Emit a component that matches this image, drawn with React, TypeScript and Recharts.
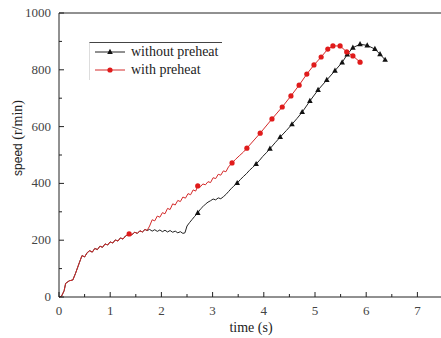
import React from "react";
import { LineChart, Line, XAxis, YAxis, ReferenceLine, Label } from "recharts";

// time (s) / speed (r/min)
const early = [
  [0, 0], [0.05, 3], [0.1, 22], [0.13, 48], [0.2, 57], [0.27, 60], [0.32, 82], [0.4, 122],
  [0.45, 146], [0.5, 141], [0.55, 156], [0.6, 163], [0.65, 158], [0.7, 171], [0.75, 167],
  [0.8, 179], [0.85, 175], [0.9, 187], [0.95, 183], [1.0, 194], [1.05, 190], [1.1, 201],
  [1.15, 197], [1.2, 208], [1.25, 204], [1.3, 215], [1.37, 222], [1.42, 219], [1.48, 228],
  [1.53, 224], [1.58, 233], [1.63, 229], [1.68, 238], [1.72, 234],
];

const withTail = [
  [1.77, 250], [1.82, 272], [1.87, 268], [1.92, 285], [1.97, 281], [2.02, 297], [2.07, 293],
  [2.12, 312], [2.17, 308], [2.22, 328], [2.27, 324], [2.32, 340], [2.37, 336], [2.42, 352],
  [2.47, 348], [2.52, 364], [2.57, 360], [2.62, 377], [2.67, 373], [2.71, 391], [2.76, 388],
  [2.81, 398], [2.86, 395], [2.91, 406], [2.96, 403], [3.01, 420], [3.06, 417], [3.11, 432],
  [3.16, 429], [3.21, 444], [3.26, 441], [3.31, 458], [3.38, 472], [3.45, 485], [3.52, 497],
  [3.6, 510], [3.67, 524], [3.93, 577], [4.16, 627], [4.36, 669], [4.53, 708], [4.69, 746],
  [4.84, 785], [4.98, 817], [5.12, 845], [5.25, 873], [5.35, 884], [5.49, 884], [5.62, 863],
  [5.74, 849], [5.88, 827],
];
const withMarks = [1.37, 2.71, 3.38, 3.67, 3.93, 4.16, 4.36, 4.53, 4.69, 4.84, 4.98, 5.12, 5.25, 5.35, 5.49, 5.62, 5.74, 5.88];

const withoutTail = [
  [1.77, 238], [1.82, 232], [1.87, 237], [1.92, 231], [1.97, 236], [2.02, 230], [2.07, 235],
  [2.12, 229], [2.17, 234], [2.22, 228], [2.27, 232], [2.32, 226], [2.37, 230], [2.42, 224],
  [2.46, 226], [2.5, 250], [2.55, 262], [2.6, 273], [2.65, 284], [2.71, 296], [2.76, 309],
  [2.81, 318], [2.86, 327], [2.91, 334], [2.96, 339], [3.01, 345], [3.06, 342], [3.11, 349],
  [3.16, 346], [3.21, 353], [3.26, 361], [3.31, 371], [3.36, 381], [3.41, 390], [3.48, 401],
  [3.54, 413], [3.6, 424], [3.66, 434], [3.72, 446], [3.78, 456], [3.85, 468], [3.92, 482],
  [3.98, 495], [4.05, 508], [4.12, 522], [4.22, 543], [4.32, 563], [4.44, 586], [4.55, 608],
  [4.65, 629], [4.75, 651], [4.9, 690], [5.06, 729], [5.23, 764], [5.39, 797], [5.53, 826],
  [5.63, 854], [5.74, 878], [5.88, 890], [6.02, 886], [6.17, 873], [6.27, 855], [6.37, 835],
];
const withoutMarks = [2.71, 3.48, 3.85, 4.12, 4.32, 4.55, 4.75, 4.9, 5.06, 5.23, 5.39, 5.53, 5.63, 5.74, 5.88, 6.02, 6.17, 6.27, 6.37];

const xTicks = [0, 0.5, 1, 1.5, 2, 2.5, 3, 3.5, 4, 4.5, 5, 5.5, 6, 6.5, 7, 7.5];
const yTicks = [0, 100, 200, 300, 400, 500, 600, 700, 800, 900, 1000];

const toRows = (pts: number[][]) => pts.map(([t, v]) => ({ t, v }));
const withData = toRows([...early, ...withTail]);
const withoutData = toRows([...early, ...withoutTail]);

const SERIF = "'Liberation Serif', 'Times New Roman', serif";
const SANS = "'Liberation Sans', Arial, sans-serif";
const AXIS = "#222";
const RED = "#d42a2a";

const XTick = (p: any) => {
  const v = p.payload.value;
  const major = Number.isInteger(v);
  return (
    <g>
      <line x1={p.x} x2={p.x} y1={p.y} y2={p.y - (major ? 5 : 3)} stroke={AXIS} />
      {major && (
        <text x={p.x} y={p.y + 18} textAnchor="middle" style={{ fontFamily: SERIF, fontSize: 13 }} fill="#444">
          {v}
        </text>
      )}
    </g>
  );
};

const YTick = (p: any) => {
  const v = p.payload.value;
  const major = v % 200 === 0;
  return (
    <g>
      <line x1={p.x} x2={p.x + (major ? 5 : 3)} y1={p.y} y2={p.y} stroke={AXIS} />
      {major && (
        <text x={p.x - 8} y={p.y + 4} textAnchor="end" style={{ fontFamily: SERIF, fontSize: 13 }} fill="#444">
          {v}
        </text>
      )}
    </g>
  );
};

const YTitle = () => (
  <text transform="translate(22,138) rotate(-90)" textAnchor="middle" fill="#222">
    <tspan style={{ fontFamily: SANS, fontSize: 12 }}>speed</tspan>
    <tspan style={{ fontFamily: SERIF, fontSize: 14 }}> (r/min)</tspan>
  </text>
);

const dotAt = (marks: number[], kind: "circle" | "tri") => (p: any) => {
  const key = `${kind}-${p.index}`;
  if (!marks.includes(p.payload.t)) return <g key={key} />;
  if (kind === "circle") return <circle key={key} cx={p.cx} cy={p.cy} r={2.6} fill="#e01b1b" />;
  return (
    <polygon
      key={key}
      points={`${p.cx},${p.cy - 3.2} ${p.cx - 2.8},${p.cy + 2} ${p.cx + 2.8},${p.cy + 2}`}
      fill="#111"
    />
  );
};

const legendItems = [
  { name: "without preheat", color: "#222", tri: true },
  { name: "with preheat", color: RED, tri: false },
];

const LegendBox = () => (
  <div
    style={{
      position: "absolute",
      left: 89,
      top: 42,
      width: 133,
      height: 38,
      borderTop: "1px solid #444",
      borderLeft: "1px solid #ddd",
      fontFamily: SERIF,
      fontSize: 14,
      color: "#222",
      boxSizing: "border-box",
    }}
  >
    {legendItems.map((it) => (
      <div key={it.name} style={{ display: "flex", alignItems: "center", height: 18 }}>
        <svg width={40} height={18} style={{ display: "block" }}>
          <line x1={5} x2={35} y1={9} y2={9} stroke={it.color} />
          {it.tri ? (
            <polygon points="20,5.8 17.2,11 22.8,11" fill="#111" />
          ) : (
            <circle cx={20} cy={9} r={2.6} fill="#e01b1b" />
          )}
        </svg>
        <span style={{ marginLeft: 1, lineHeight: "18px" }}>{it.name}</span>
      </div>
    ))}
  </div>
);

export default function App() {
  return (
    <div style={{ position: "absolute", left: 0, top: 0, width: 441, height: 338, overflow: "hidden", background: "#fff" }}>
      <LineChart width={443} height={338} margin={{ top: 13, right: 0, bottom: 0, left: 0 }}>
        <XAxis
          dataKey="t"
          type="number"
          domain={[0, 7.5]}
          ticks={xTicks}
          interval={0}
          allowDataOverflow
          height={41}
          tickSize={0}
          tickMargin={0}
          tickLine={false}
          axisLine={{ stroke: AXIS }}
          tick={XTick}
        >
          <Label
            value="time (s)"
            position="insideBottom"
            offset={6}
            style={{ fontFamily: SERIF, fontSize: 14, fill: "#222" }}
          />
        </XAxis>
        <YAxis
          type="number"
          domain={[0, 1000]}
          ticks={yTicks}
          interval={0}
          width={59}
          tickSize={0}
          tickMargin={0}
          tickLine={false}
          axisLine={{ stroke: AXIS }}
          tick={YTick}
        >
          <Label content={YTitle} />
        </YAxis>
        <ReferenceLine y={1000} stroke={AXIS} />
        <Line
          data={withoutData}
          dataKey="v"
          name="without preheat"
          stroke="#222"
          strokeWidth={1}
          dot={dotAt(withoutMarks, "tri")}
          activeDot={false}
          isAnimationActive={false}
        />
        <Line
          data={withData}
          dataKey="v"
          name="with preheat"
          stroke={RED}
          strokeWidth={1}
          dot={dotAt(withMarks, "circle")}
          activeDot={false}
          isAnimationActive={false}
        />
      </LineChart>
      <LegendBox />
    </div>
  );
}
